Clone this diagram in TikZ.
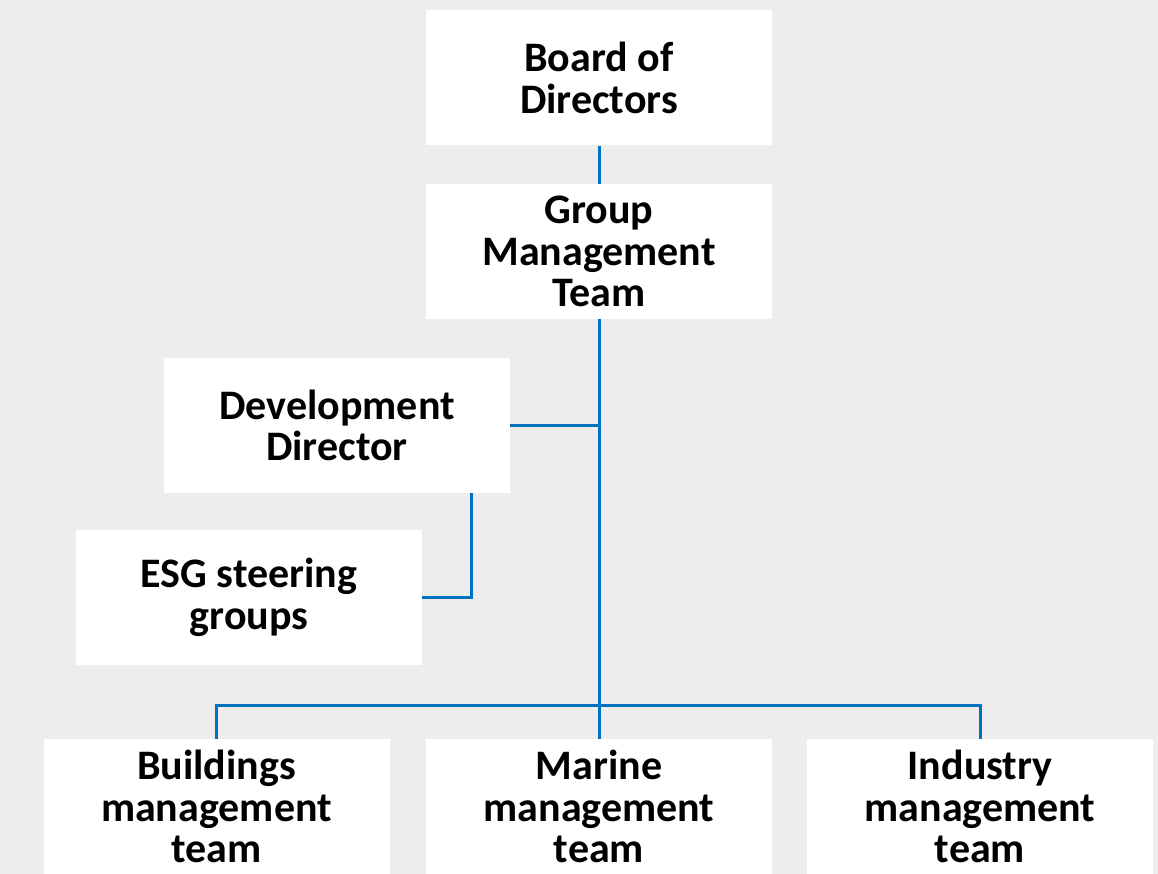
\documentclass[tikz,border=0pt]{standalone}
\usepackage{fontspec}
\setmainfont{Carlito}

\definecolor{pagegray}{HTML}{EDEDED}
\definecolor{linkblue}{HTML}{0070C0}

\begin{document}
\begin{tikzpicture}[x=1pt,y=-1pt,line join=miter,
  box/.style={fill=white, minimum width=346pt, minimum height=135pt, inner sep=0pt,
    align=center, font=\fontsize{42}{41.5}\selectfont\bfseries},
  link/.style={draw=linkblue, line width=3pt}]
  % background
  \fill[pagegray] (0,0) rectangle (1158,874);
  \useasboundingbox (0,0) rectangle (1158,874);

  % top of the chart
  \node[box] (board) at (599,78) {Board of\\Directors};
  \node[box] (gmt) at (599,251.5) {Group\\Management\\Team};

  % side boxes
  \node[box] (devdir) at (337,425.5) {Development\\Director};
  \node[box] (esg) at (249,597.5) {ESG steering\\groups};

  % business areas
  \node[box] (buildings) at (216.5,806.5) {Buildings\\management\\team};
  \node[box] (marine) at (599,806.5) {Marine\\management\\team};
  \node[box] (industry) at (980,806.5) {Industry\\management\\team};

  % connectors
  \coordinate (bus) at (599,705);
  \draw[link] (board.south) -- (gmt.north);
  \draw[link] (gmt.south) -- (bus);
  \draw[link] (devdir.east) -- (devdir.east -| gmt.south);
  \draw[link] ([xshift=134pt]devdir.south) |- (esg.east);
  \draw[link] (buildings.north) |- (bus) -| (industry.north);
  \draw[link] (bus) -- (marine.north);
\end{tikzpicture}
\end{document}
